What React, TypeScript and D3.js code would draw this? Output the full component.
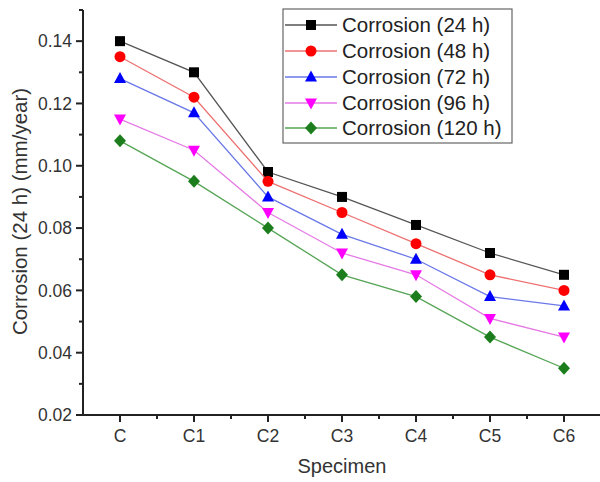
import React from "react";
import * as d3 from "d3";

const categories = ["C", "C1", "C2", "C3", "C4", "C5", "C6"];
const series24 = [0.140, 0.130, 0.098, 0.090, 0.081, 0.072, 0.065];
const series48 = [0.135, 0.122, 0.095, 0.085, 0.075, 0.065, 0.060];
const series72 = [0.128, 0.117, 0.090, 0.078, 0.070, 0.058, 0.055];
const series96 = [0.115, 0.105, 0.085, 0.072, 0.065, 0.051, 0.045];
const series120 = [0.108, 0.095, 0.080, 0.065, 0.058, 0.045, 0.035];
const seriesNames = ["Corrosion (24 h)", "Corrosion (48 h)", "Corrosion (72 h)", "Corrosion (96 h)", "Corrosion (120 h)"];
const yTicks = [0.02, 0.04, 0.06, 0.08, 0.10, 0.12, 0.14];
const yMinorTicks = [0.03, 0.05, 0.07, 0.09, 0.11, 0.13, 0.15];

const seriesList = [series24, series48, series72, series96, series120];
const markerColors = ["#000000", "#ff0000", "#0000ff", "#ff00ff", "#1b7d1b"];
const lineColors = ["#555555", "#ee7070", "#6a78e8", "#e57ae5", "#55a555"];
const shapes = ["square", "circle", "triangle", "triangleDown", "diamond"];

const W = 600, H = 482;
const left = 83, right = 601, top = 10, bottom = 415;
const x = d3.scaleLinear().domain([-0.5, categories.length - 0.5]).range([left, right]);
const y = d3.scaleLinear().domain([0.02, 0.15]).range([bottom, top]);

function Marker({ shape, cx, cy, color }: { shape: string; cx: number; cy: number; color: string }) {
  if (shape === "square") return <rect x={cx - 5} y={cy - 5} width={10} height={10} fill={color} />;
  if (shape === "circle") return <circle cx={cx} cy={cy} r={5.5} fill={color} />;
  if (shape === "triangle")
    return <path d={`M${cx},${cy - 6.5} L${cx + 6},${cy + 4.5} L${cx - 6},${cy + 4.5} Z`} fill={color} />;
  if (shape === "triangleDown")
    return <path d={`M${cx},${cy + 6.5} L${cx + 6},${cy - 4.5} L${cx - 6},${cy - 4.5} Z`} fill={color} />;
  return <path d={`M${cx},${cy - 6.5} L${cx + 6},${cy} L${cx},${cy + 6.5} L${cx - 6},${cy} Z`} fill={color} />;
}

export default function App() {
  const line = d3
    .line<number>()
    .x((_, i) => x(i))
    .y((d) => y(d));
  const font = "Liberation Sans, Arial, sans-serif";
  const legendRows = [25, 51, 77, 103, 128];
  const xMinor = categories.slice(0, -1).map((_, i) => i + 0.5);
  return (
    <svg width={W} height={H} style={{ position: "absolute", left: 0, top: 0, background: "#fff" }} fontFamily={font}>
      <rect width={W} height={H} fill="#fff" />
      {seriesList.map((s, k) => (
        <g key={k}>
          <path d={line(s) || ""} fill="none" stroke={lineColors[k]} strokeWidth={1.3} />
          {s.map((v, i) => (
            <Marker key={i} shape={shapes[k]} cx={x(i)} cy={y(v)} color={markerColors[k]} />
          ))}
        </g>
      ))}
      {/* axes */}
      <line x1={left} x2={left} y1={top} y2={bottom + 1} stroke="#222" strokeWidth={2} />
      <line x1={left - 1} x2={right} y1={bottom} y2={bottom} stroke="#222" strokeWidth={2} />
      {yTicks.map((t) => (
        <g key={t}>
          <line x1={left - 7} x2={left} y1={y(t)} y2={y(t)} stroke="#222" strokeWidth={2} />
          <text x={left - 11} y={y(t)} dy="0.36em" textAnchor="end" fontSize={17.5} fill="#333">
            {t.toFixed(2)}
          </text>
        </g>
      ))}
      {yMinorTicks.map((t) => (
        <line key={t} x1={left - 4} x2={left} y1={y(t)} y2={y(t)} stroke="#222" strokeWidth={2} />
      ))}
      {categories.map((c, i) => (
        <g key={c}>
          <line x1={x(i)} x2={x(i)} y1={bottom} y2={bottom + 7} stroke="#222" strokeWidth={2} />
          <text x={x(i)} y={bottom + 27} textAnchor="middle" fontSize={17.5} fill="#333">
            {c}
          </text>
        </g>
      ))}
      {xMinor.map((t) => (
        <line key={t} x1={x(t)} x2={x(t)} y1={bottom} y2={bottom + 4} stroke="#222" strokeWidth={2} />
      ))}
      <text x={(left + right) / 2} y={473} textAnchor="middle" fontSize={20} fill="#333">
        Specimen
      </text>
      <text transform={`translate(27,${(85 + 338) / 2}) rotate(-90)`} textAnchor="middle" fontSize={20.5} fill="#333">
        Corrosion (24 h) (mm/year)
      </text>
      {/* legend */}
      <rect x={283} y={9} width={229} height={134} fill="#fff" stroke="#666" strokeWidth={1.2} />
      {seriesNames.map((n, k) => (
        <g key={n}>
          <line x1={285} x2={337} y1={legendRows[k]} y2={legendRows[k]} stroke={lineColors[k]} strokeWidth={1.3} />
          <Marker shape={shapes[k]} cx={311} cy={legendRows[k]} color={markerColors[k]} />
          <text x={342} y={legendRows[k]} dy="0.36em" fontSize={20.5} fill="#222">
            {n}
          </text>
        </g>
      ))}
    </svg>
  );
}
